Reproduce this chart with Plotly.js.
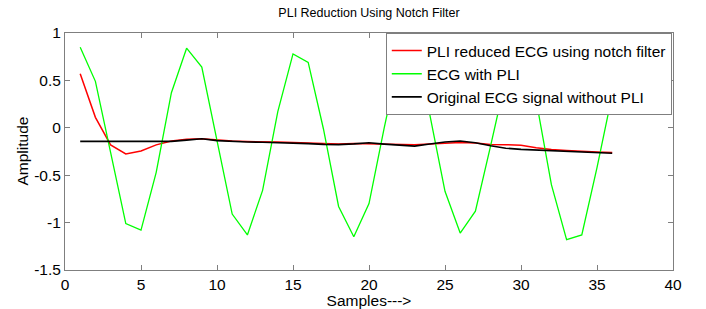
<!DOCTYPE html>
<html>
<head>
<meta charset="utf-8">
<script src="https://cdn.plot.ly/plotly-3.0.1.min.js"></script>
<style>
  html, body { margin: 0; padding: 0; background: #ffffff; }
  #chart { width: 706px; height: 309px; }
</style>
</head>
<body>
<div id="chart"></div>
<script>
// Sample index
const samples = [1,2,3,4,5,6,7,8,9,10,11,12,13,14,15,16,17,18,19,20,21,22,23,24,25,26,27,28,29,30,31,32,33,34,35,36];

// PLI reduced ECG using notch filter (red)
const pliReduced = [0.57,0.11,-0.18,-0.275,-0.245,-0.18,-0.14,-0.12,-0.115,-0.13,-0.14,-0.145,-0.145,-0.15,-0.155,-0.16,-0.17,-0.17,-0.165,-0.17,-0.175,-0.175,-0.18,-0.17,-0.16,-0.155,-0.16,-0.175,-0.178,-0.185,-0.21,-0.23,-0.24,-0.25,-0.255,-0.26];

// ECG with PLI (green)
const ecgWithPli = [0.85,0.49,-0.26,-1.01,-1.08,-0.47,0.37,0.84,0.64,-0.13,-0.91,-1.13,-0.66,0.17,0.78,0.69,-0.01,-0.83,-1.15,-0.80,0.0,0.74,0.88,0.14,-0.67,-1.11,-0.88,-0.19,0.52,0.9,0.29,-0.6,-1.18,-1.13,-0.42,0.35];

// Original ECG signal without PLI (black)
const originalEcg = [-0.143,-0.143,-0.143,-0.143,-0.143,-0.143,-0.143,-0.13,-0.116,-0.135,-0.145,-0.15,-0.152,-0.155,-0.16,-0.167,-0.175,-0.178,-0.17,-0.158,-0.172,-0.183,-0.193,-0.17,-0.15,-0.14,-0.158,-0.19,-0.215,-0.228,-0.235,-0.24,-0.25,-0.258,-0.264,-0.268];

const seriesNames = ['PLI reduced ECG using notch filter', 'ECG with PLI', 'Original ECG signal without PLI'];
const chartTitle = 'PLI Reduction Using Notch Filter';
const xTitle = 'Samples--->';
const yTitle = 'Amplitude';
const yTickVals = [-1.5, -1, -0.5, 0, 0.5, 1];
const yTickText = ['-1.5', '-1', '-0.5', '0', '0.5', '1'];
const xTickVals = [0, 5, 10, 15, 20, 25, 30, 35, 40];

const FONT = '"Liberation Sans", Arial, sans-serif';
const AX = '#7f7f7f';

const traces = [
  { x: samples, y: pliReduced, name: seriesNames[0], mode: 'lines', line: { color: '#ff0000', width: 1.5 } },
  { x: samples, y: ecgWithPli, name: seriesNames[1], mode: 'lines', line: { color: '#00ff00', width: 1.3 } },
  { x: samples, y: originalEcg, name: seriesNames[2], mode: 'lines', line: { color: '#000000', width: 1.6 } }
];

const layout = {
  width: 706, height: 309,
  margin: { l: 65, r: 33, t: 33, b: 39 },
  paper_bgcolor: '#ffffff', plot_bgcolor: '#ffffff',
  font: { family: FONT, size: 15.5, color: '#000000' },
  title: { text: chartTitle, font: { family: FONT, size: 12.5, color: '#000000' }, x: 0.5227, xanchor: 'center', y: 0.96, yanchor: 'middle' },
  showlegend: true,
  legend: {
    x: 0.998, xanchor: 'right', y: 1, yanchor: 'top',
    bgcolor: '#ffffff', bordercolor: AX, borderwidth: 1,
    font: { family: FONT, size: 15.5, color: '#000000' },
    tracegroupgap: 0, itemwidth: 30
  },
  annotations: [{
    text: yTitle, xref: 'paper', yref: 'paper', x: 0, y: 0.5,
    xanchor: 'center', yanchor: 'middle', xshift: -43, textangle: -90,
    showarrow: false, font: { family: FONT, size: 15.5, color: '#000000' }
  }],
  xaxis: {
    range: [0, 40], tickvals: xTickVals, ticktext: xTickVals.map(String),
    showgrid: false, zeroline: false, showline: true, linecolor: AX, linewidth: 1,
    mirror: 'ticks', ticks: 'inside', ticklen: 5, tickcolor: AX, tickwidth: 1,
    tickfont: { family: FONT, size: 15.5, color: '#000000' },
    title: { text: xTitle, font: { family: FONT, size: 15.5, color: '#000000' }, standoff: 0 },
    fixedrange: true
  },
  yaxis: {
    range: [-1.5, 1], tickvals: yTickVals, ticktext: yTickText,
    showgrid: false, zeroline: false, showline: true, linecolor: AX, linewidth: 1,
    mirror: 'ticks', ticks: 'inside', ticklen: 5, tickcolor: AX, tickwidth: 1,
    tickfont: { family: FONT, size: 15.5, color: '#000000' },
    fixedrange: true
  }
};

Plotly.newPlot('chart', traces, layout, { staticPlot: true, displayModeBar: false });
</script>
</body>
</html>
